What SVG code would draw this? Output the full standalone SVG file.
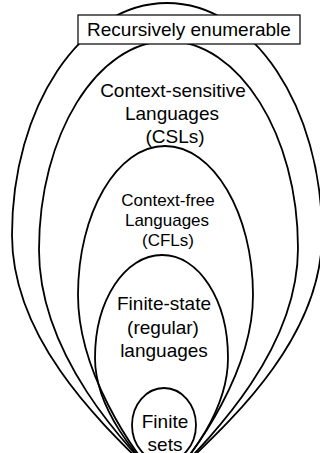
<svg xmlns="http://www.w3.org/2000/svg" width="320" height="453" viewBox="0 0 320 453">
  <style>
    .set { fill: none; stroke: #000; stroke-width: 1.8; }
    .box { fill: #fff; stroke: #000; stroke-width: 1.2; }
    text { font-family: "Liberation Sans", Arial, sans-serif; fill: #000; text-anchor: middle; }
    .big { font-size: 19px; }
    .mid { font-size: 17px; }
  </style>
  <rect width="320" height="453" fill="#fff"/>

  <!-- nested language classes, each an egg pinched to a common point below the bottom edge -->
  <g id="re">
    <path class="set" d="M164,485 C120,440 12,350 12,235 C12,107 81,3 167,3 C253,3 322,107 322,235 C322,350 208,440 164,485 Z"/>
  </g>
  <g id="csl">
    <path class="set" d="M164,485 C125,445 39,355 39,250 C39,135 97,41 168,41 C239,41 298,135 298,248 C298,355 203,445 164,485 Z"/>
  </g>
  <g id="cfl">
    <path class="set" d="M164,485 C130,450 78,370 78,295 C78,213 117,146 165,146 C213,146 253,213 253,295 C253,370 198,450 164,485 Z"/>
  </g>
  <g id="fsl">
    <path class="set" d="M164,485 C138,458 95,410 95,358 C95,300 125,255 162,255 C199,255 228,300 228,358 C228,410 190,458 164,485 Z"/>
  </g>
  <g id="finite">
    <ellipse class="set" cx="164" cy="425" rx="32" ry="37"/>
  </g>

  <!-- labels -->
  <g id="re-label">
    <rect class="box" x="78" y="15" width="222" height="29"/>
    <text class="big" x="189" y="36">Recursively enumerable</text>
  </g>
  <g id="csl-label">
    <text class="big" x="173" y="97">Context-sensitive</text>
    <text class="big" x="172" y="120">Languages</text>
    <text class="big" x="175" y="143">(CSLs)</text>
  </g>
  <g id="cfl-label">
    <text class="mid" x="168" y="206">Context-free</text>
    <text class="mid" x="167" y="226">Languages</text>
    <text class="mid" x="168" y="246">(CFLs)</text>
  </g>
  <g id="fsl-label">
    <text class="big" x="164" y="310">Finite-state</text>
    <text class="big" x="163" y="334">(regular)</text>
    <text class="big" x="164" y="357">languages</text>
  </g>
  <g id="finite-label">
    <text class="big" x="165" y="428">Finite</text>
    <text class="big" x="165" y="451">sets</text>
  </g>
</svg>
